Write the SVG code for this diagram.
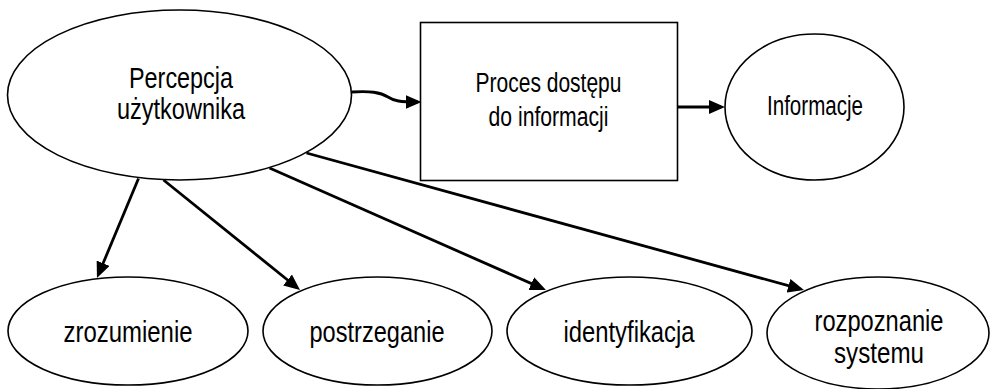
<svg xmlns="http://www.w3.org/2000/svg" width="990" height="389" viewBox="0 0 990 389">
<style>
.shape{fill:#fff;stroke:#000;stroke-width:1.6}
.lbl{font-family:"Liberation Sans",Arial,sans-serif;fill:#000;text-anchor:middle}
.big{font-size:29px}
.mid{font-size:27px}
.conn{fill:none;stroke:#000;stroke-width:2.8}
</style>
<defs>
<marker id="arr" markerUnits="userSpaceOnUse" viewBox="0 0 16 14" refX="12" refY="7" markerWidth="16" markerHeight="14" orient="auto">
<path d="M0,0 L16,7 L0,14 Z" fill="#000"/>
</marker>
</defs>
<g id="connectors">
<path class="conn" d="M352,92 C370,91 380,92 388,97 C394,101 400,102 417.5,102" marker-end="url(#arr)"/>
<path class="conn" d="M678,107 L721,107" marker-end="url(#arr)"/>
<path class="conn" d="M138.5,178.5 L98.5,274.3" marker-end="url(#arr)"/>
<path class="conn" d="M163.5,180 L296.9,287.5" marker-end="url(#arr)"/>
<path class="conn" d="M269.5,168 L542.3,288.4" marker-end="url(#arr)"/>
<path class="conn" d="M306.5,153 L800.1,288.9" marker-end="url(#arr)"/>
</g>
<g id="percepcja">
<ellipse class="shape" cx="179.5" cy="95" rx="172" ry="85"/>
<text class="lbl big" x="181" y="88" textLength="104" lengthAdjust="spacingAndGlyphs">Percepcja</text>
<text class="lbl big" x="181" y="119" textLength="128" lengthAdjust="spacingAndGlyphs">użytkownika</text>
</g>
<g id="proces">
<rect class="shape" x="420.5" y="22.5" width="257" height="158"/>
<text class="lbl mid" x="548.5" y="92" textLength="146" lengthAdjust="spacingAndGlyphs">Proces dostępu</text>
<text class="lbl mid" x="548.5" y="126" textLength="120" lengthAdjust="spacingAndGlyphs">do informacji</text>
</g>
<g id="informacje">
<ellipse class="shape" cx="814.5" cy="107" rx="89.5" ry="73"/>
<text class="lbl mid" x="815" y="115" textLength="96" lengthAdjust="spacingAndGlyphs">Informacje</text>
</g>
<g id="zrozumienie">
<ellipse class="shape" cx="128" cy="331" rx="120" ry="54"/>
<text class="lbl big" x="128" y="342" textLength="129" lengthAdjust="spacingAndGlyphs">zrozumienie</text>
</g>
<g id="postrzeganie">
<ellipse class="shape" cx="377.5" cy="331" rx="114.5" ry="54"/>
<text class="lbl big" x="377" y="342" textLength="135" lengthAdjust="spacingAndGlyphs">postrzeganie</text>
</g>
<g id="identyfikacja">
<ellipse class="shape" cx="629.5" cy="331" rx="122.5" ry="54"/>
<text class="lbl big" x="629" y="342" textLength="131" lengthAdjust="spacingAndGlyphs">identyfikacja</text>
</g>
<g id="rozpoznanie">
<ellipse class="shape" cx="878" cy="333" rx="111" ry="56"/>
<text class="lbl big" x="879" y="331" textLength="129" lengthAdjust="spacingAndGlyphs">rozpoznanie</text>
<text class="lbl big" x="879" y="363" textLength="90" lengthAdjust="spacingAndGlyphs">systemu</text>
</g>
</svg>
